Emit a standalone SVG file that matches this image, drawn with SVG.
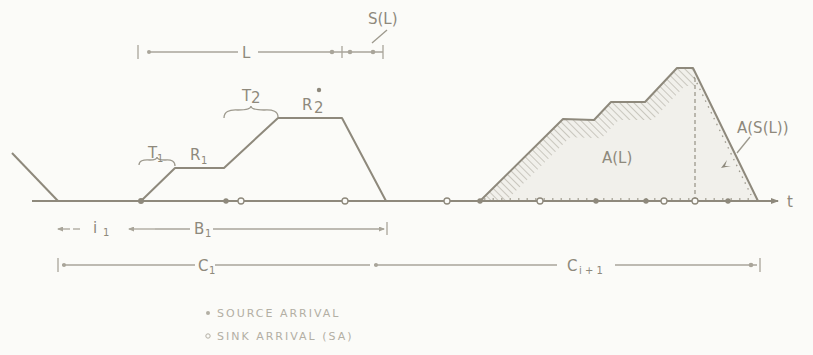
<svg xmlns="http://www.w3.org/2000/svg" width="813" height="355" viewBox="0 0 813 355">
<defs>
<style>
.ln{stroke:#8e897c;stroke-width:2;fill:none;stroke-linejoin:round}
.th{stroke:#9d998d;stroke-width:1.3;fill:none}
.dim{stroke:#a9a59a;stroke-width:1.3;fill:none}
.dot{fill:#8e897c}
.odot{fill:#fbfbf8;stroke:#8e897c;stroke-width:1.3}
.tx{font-family:"DejaVu Sans",sans-serif;font-size:15px;fill:#8e897c}
.sm{font-family:"DejaVu Sans",sans-serif;font-size:10px;fill:#8e897c}
.lg{font-family:"DejaVu Sans",sans-serif;font-size:11px;fill:#b3afa4;letter-spacing:2px}
</style>
<pattern id="hatch" width="5" height="5" patternUnits="userSpaceOnUse" patternTransform="rotate(-45)">
<line x1="0" y1="0" x2="0" y2="5" stroke="#a29e92" stroke-width="1"/>
</pattern>
<clipPath id="clipA"><polygon points="480,201 563,119 594,120 611,102 645,102 677,68 693,68 695,72 695,201"/></clipPath>
<marker id="ah" markerWidth="8" markerHeight="6" refX="7" refY="3" orient="auto" markerUnits="userSpaceOnUse"><path d="M0,0 L8,3 L0,6 Z" fill="#8e897c"/></marker>
<marker id="ahs" markerWidth="6" markerHeight="5" refX="5" refY="2.5" orient="auto" markerUnits="userSpaceOnUse"><path d="M0,0 L6,2.5 L0,5 Z" fill="#a9a59a"/></marker>
</defs>
<rect width="813" height="355" fill="#fbfbf8"/>

<g id="shading">
<polygon points="480,201 563,119 594,120 611,102 645,102 677,68 693,68 758,201" fill="#f1f0eb"/>
<path d="M480,201 L563,119 L594,120 L611,102 L645,102 L677,68 L695,68" stroke="url(#hatch)" stroke-width="36" fill="none" clip-path="url(#clipA)"/>
</g>

<g id="connectors">
<path class="ln" d="M12,153 L58,201"/>
<path class="ln" d="M32,201 L778,201" marker-end="url(#ah)"/>
<path class="ln" d="M141,201 L175,168 L224,168 L278,118 L342,118 L386,201"/>
<path class="ln" d="M480,201 L563,119 L594,120 L611,102 L645,102 L677,68 L693,68 L758,201"/>
<path class="th" d="M695,78 L695,201" stroke-dasharray="4,3"/>
<path class="th" d="M697,76 L754,194" stroke-dasharray="1.5,5" stroke-width="3" transform="translate(-3,1)"/>
<path class="th" d="M484,199 L756,199" stroke-dasharray="1.5,7" stroke-width="2.5" transform="translate(0,0)"/>
<path class="th" d="M750,137 L737,153"/>
<path d="M721,168 L727,160 L725,166 L731,166 Z" fill="#8e897c"/>
<path class="th" d="M139,165 Q139,159 150,160 Q157,160 157,157 Q157,160 165,160 Q175,159 175,166"/>
<path class="th" d="M224,118 Q224,109 238,110 Q251,110 251,106 Q251,110 264,110 Q278,109 278,117"/>
<path class="th" d="M372,43 L387,30"/>
<g id="dimL">
<path class="dim" d="M138,45 L138,59 M149,52 L238,52 M258,52 L330,52 M332,52 L372,52 M342,46 L342,58 M383,45 L383,59 M365,52 L383,52"/>
<circle cx="149" cy="52" r="2" fill="#a9a59a"/>
<circle cx="332" cy="52" r="2.3" fill="#a9a59a"/>
<circle cx="350" cy="52" r="2.3" fill="#a9a59a"/>
<circle cx="373" cy="52" r="2.3" fill="#a9a59a"/>
</g>
<g id="dimB">
<path class="dim" d="M70,229 L58,229" marker-end="url(#ahs)"/>
<path class="dim" d="M73,229 L80,229"/>
<path class="dim" d="M155,229 L129,229" marker-end="url(#ahs)"/>
<path class="dim" d="M155,229 L190,229 M213,229 L384,229" marker-end="url(#ahs)"/>
<path class="dim" d="M387,222 L387,235"/>
<path class="dim" d="M58,258 L58,272 M62,265 L195,265 M215,265 L370,265 M374,265 L557,265 M615,265 L757,265"/>
<circle cx="64" cy="265" r="2" fill="#a9a59a"/>
<circle cx="376" cy="265" r="2" fill="#a9a59a"/>
<circle cx="751" cy="265" r="2.3" fill="#a9a59a"/>
<path class="dim" d="M760,258 L760,272"/>
</g>
</g>

<g id="points">
<circle class="dot" cx="141" cy="201" r="3"/>
<circle class="dot" cx="226" cy="201" r="2.7"/>
<circle class="odot" cx="241" cy="201" r="3"/>
<circle class="odot" cx="345" cy="201" r="3"/>
<circle class="odot" cx="447" cy="201" r="3"/>
<circle class="dot" cx="480" cy="201" r="2.7"/>
<circle class="odot" cx="540" cy="201" r="3"/>
<circle class="dot" cx="596" cy="201" r="2.7"/>
<circle class="dot" cx="646" cy="201" r="2.7"/>
<circle class="odot" cx="664" cy="201" r="3"/>
<circle class="odot" cx="695" cy="201" r="3"/>
<circle class="dot" cx="728" cy="201" r="2.7"/>
</g>

<g id="labels">
<text class="tx" x="148" y="158">T</text><text class="sm" x="157" y="162">1</text>
<text class="tx" x="190" y="160">R</text><text class="sm" x="201" y="164">1</text>
<text class="tx" x="242" y="101">T</text><text class="tx" x="251" y="103" font-size="13">2</text>
<text class="tx" x="302" y="110">R</text><text class="tx" x="314" y="113" font-size="13">2</text>
<circle class="dot" cx="319" cy="90" r="2.2"/>
<text class="tx" x="368" y="24">S(L)</text>
<text class="tx" x="242" y="58">L</text>
<text class="tx" x="602" y="163">A(L)</text>
<text class="tx" x="737" y="133">A(S(L))</text>
<text class="tx" x="787" y="207">t</text>
<text class="tx" x="93" y="233" font-size="14">i</text><text class="sm" x="103" y="236">1</text>
<text class="tx" x="194" y="234" font-size="14">B</text><text class="sm" x="205" y="237">1</text>
<text class="tx" x="198" y="271" font-size="14">C</text><text class="sm" x="209" y="274">1</text>
<text class="tx" x="567" y="271" font-size="14">C</text><text class="sm" x="579" y="274">i + 1</text>
<circle cx="208" cy="313" r="2" fill="#b3afa4"/>
<text class="lg" x="217" y="317">SOURCE ARRIVAL</text>
<circle cx="208" cy="336" r="2.2" fill="none" stroke="#b3afa4" stroke-width="1"/>
<text class="lg" x="217" y="340">SINK ARRIVAL (SA)</text>
</g>
</svg>
